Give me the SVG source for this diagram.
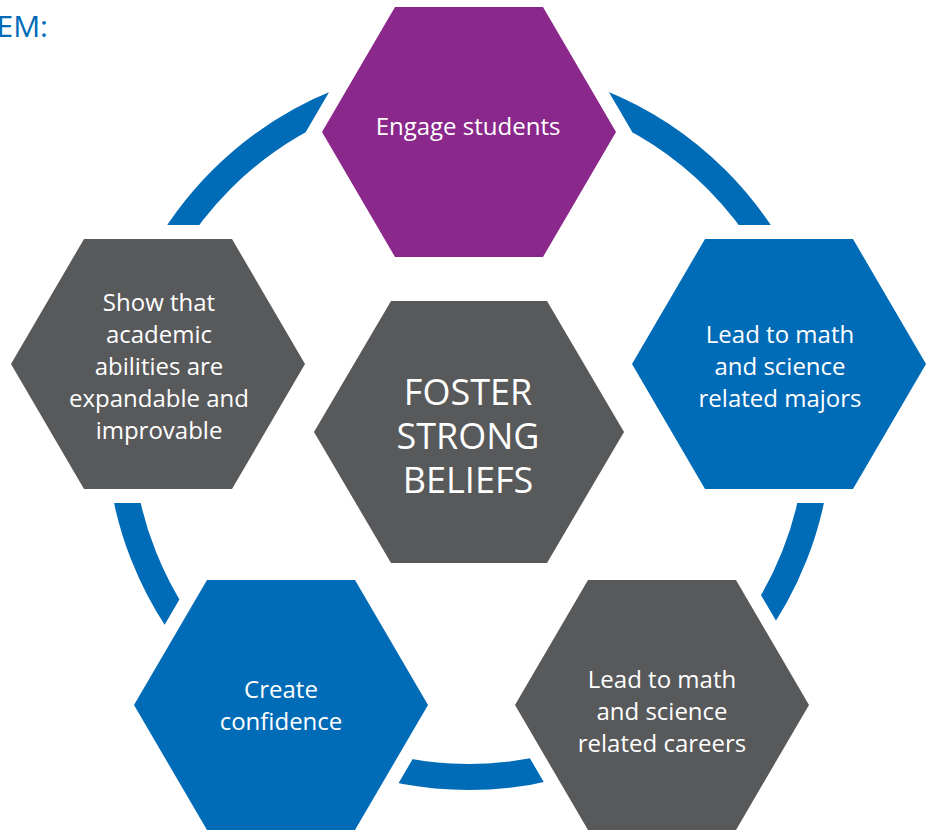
<svg xmlns="http://www.w3.org/2000/svg" width="932" height="830" viewBox="0 0 932 830">
  <style>
    .lbl { font-family: "Open Sans", "Noto Sans", "Liberation Sans", sans-serif; font-size: 24px; fill: #ffffff; text-anchor: middle; }
    .big { font-family: "Open Sans", "Noto Sans", "Liberation Sans", sans-serif; font-size: 36px; fill: #ffffff; text-anchor: middle; }
    .purple { fill: #8a288c; }
    .blue { fill: #006bb6; }
    .gray { fill: #58595b; }
    .ring { fill: none; stroke: #006bb6; stroke-width: 26; }
    .cut { fill: #000; stroke: #000; stroke-width: 28; stroke-linejoin: miter; }
  </style>
  <defs>
    <mask id="gaps" maskUnits="userSpaceOnUse" x="0" y="0" width="932" height="830">
      <rect x="0" y="0" width="932" height="830" fill="#fff"/>
      <polygon class="cut" points="395,7 543,7 616,132 543,257 395,257 322,132"/>
      <polygon class="cut" points="705,239 853,239 926,364 853,489 705,489 632,364"/>
      <polygon class="cut" points="84,239 232,239 305,364 232,489 84,489 11,364"/>
      <polygon class="cut" points="207,580 355,580 428,705 355,830 207,830 134,705"/>
      <polygon class="cut" points="588,580 736,580 809,705 736,830 588,830 515,705"/>
    </mask>
  </defs>
  <rect x="0" y="0" width="932" height="830" fill="#ffffff"/>
  <text x="48" y="37" font-family="Open Sans, Noto Sans, Liberation Sans, sans-serif" font-size="30" fill="#006bb6" text-anchor="end">TEM:</text>

  <g id="connectors">
    <circle class="ring" cx="469" cy="427" r="350" mask="url(#gaps)"/>
  </g>

  <g id="engage">
    <polygon class="purple" points="395,7 543,7 616,132 543,257 395,257 322,132"/>
    <text class="lbl" x="468" y="135">Engage students</text>
  </g>
  <g id="majors">
    <polygon class="blue" points="705,239 853,239 926,364 853,489 705,489 632,364"/>
    <text class="lbl" x="780" y="343">Lead to math</text>
    <text class="lbl" x="780" y="375">and science</text>
    <text class="lbl" x="780" y="407">related majors</text>
  </g>
  <g id="show">
    <polygon class="gray" points="84,239 232,239 305,364 232,489 84,489 11,364"/>
    <text class="lbl" x="159" y="311">Show that</text>
    <text class="lbl" x="159" y="343">academic</text>
    <text class="lbl" x="159" y="375">abilities are</text>
    <text class="lbl" x="159" y="407">expandable and</text>
    <text class="lbl" x="159" y="439">improvable</text>
  </g>
  <g id="foster">
    <polygon class="gray" points="391,301 547,301 624,432 547,563 391,563 314,432"/>
    <text class="big" x="468" y="405">FOSTER</text>
    <text class="big" x="468" y="449">STRONG</text>
    <text class="big" x="468" y="493">BELIEFS</text>
  </g>
  <g id="confidence">
    <polygon class="blue" points="207,580 355,580 428,705 355,830 207,830 134,705"/>
    <text class="lbl" x="281" y="698">Create</text>
    <text class="lbl" x="281" y="730">confidence</text>
  </g>
  <g id="careers">
    <polygon class="gray" points="588,580 736,580 809,705 736,830 588,830 515,705"/>
    <text class="lbl" x="662" y="688">Lead to math</text>
    <text class="lbl" x="662" y="720">and science</text>
    <text class="lbl" x="662" y="752">related careers</text>
  </g>
</svg>
